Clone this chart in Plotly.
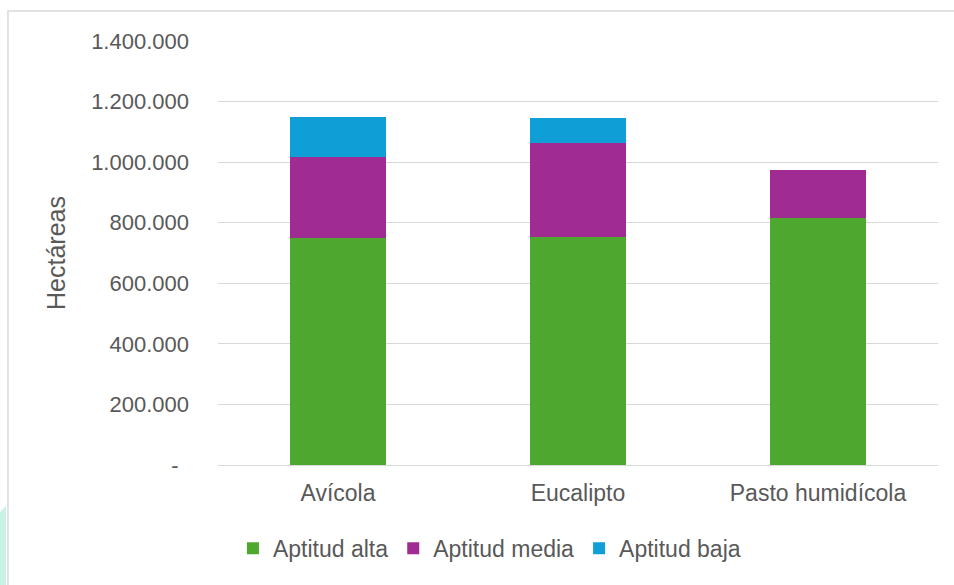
import plotly.graph_objects as go

categories = ["Avícola", "Eucalipto", "Pasto humidícola"]
series_names = ["Aptitud alta", "Aptitud media", "Aptitud baja"]
aptitud_alta = [750000, 753000, 817000]
aptitud_media = [268000, 310000, 158000]
aptitud_baja = [130000, 84000, 0]
tick_values = [0, 200000, 400000, 600000, 800000, 1000000, 1200000, 1400000]
tick_labels = ["-\u00a0\u2009", "200.000", "400.000", "600.000", "800.000", "1.000.000", "1.200.000", "1.400.000"]
colors = ["#4ea72e", "#a02b93", "#0f9ed5"]

FONT = "Liberation Sans, Arial, sans-serif"
GRAY = "#595959"

fig = go.Figure()
for name, vals, col in zip(series_names, [aptitud_alta, aptitud_media, aptitud_baja], colors):
    fig.add_trace(go.Bar(x=categories, y=vals, name=name, marker=dict(color=col, line=dict(width=0))))

fig.update_layout(
    barmode="stack",
    bargap=0.6,
    width=954, height=585,
    margin=dict(l=218, r=16, t=41, b=120),
    paper_bgcolor="white", plot_bgcolor="white",
    font=dict(family=FONT, color=GRAY, size=22),
    legend=dict(orientation="h", x=0.377, xanchor="center", y=-0.1966, yanchor="middle",
                traceorder="normal",
                font=dict(family=FONT, size=23, color=GRAY)),
    xaxis=dict(showgrid=False, showline=False, ticks="", tickfont=dict(size=23), ticklabelstandoff=12),
    yaxis=dict(range=[0, 1400000], tickvals=tick_values, ticktext=tick_labels,
               showgrid=True, gridcolor="#d9d9d9", gridwidth=1, zeroline=True,
               zerolinecolor="#d9d9d9", zerolinewidth=1, ticks="", ticklabelstandoff=28,
               tickfont=dict(size=22),
               title=dict(text="Hectáreas", font=dict(size=25, color=GRAY), standoff=18)),
    shapes=[
        dict(type="rect", xref="paper", yref="paper", x0=-0.2917, x1=1.2, y0=-0.5, y1=1.0708,
             line=dict(color="#d9d9d9", width=1.5), fillcolor="rgba(0,0,0,0)", layer="below"),
        dict(type="path", xref="paper", yref="paper",
             path="M -0.3035,-0.113 L -0.2944,-0.096 L -0.2944,-0.3 L -0.3035,-0.3 Z",
             line=dict(width=0), fillcolor="#c8f2e4", layer="below"),
    ],
)

fig.write_html("out.html", config={"displayModeBar": False},
               post_script="document.body.style.margin='0';")
